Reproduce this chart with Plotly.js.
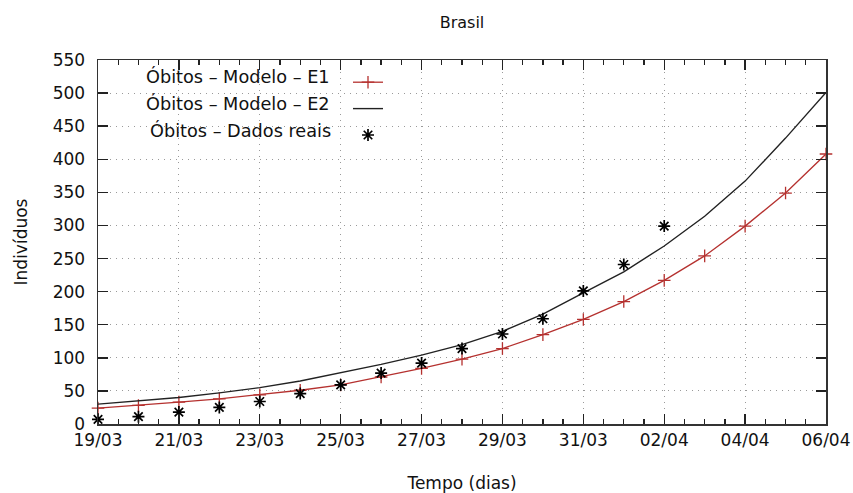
<!DOCTYPE html>
<html>
<head>
<meta charset="utf-8">
<script src="https://cdn.plot.ly/plotly-3.0.1.min.js"></script>
<style>html,body{margin:0;padding:0;background:#fff;}#chart{width:853px;height:493px;}</style>
</head>
<body>
<div id="chart"></div>
<script>
// Model dates (19/03 to 06/04)
const modelDates = ['2020-03-19','2020-03-20','2020-03-21','2020-03-22','2020-03-23','2020-03-24','2020-03-25','2020-03-26','2020-03-27','2020-03-28','2020-03-29','2020-03-30','2020-03-31','2020-04-01','2020-04-02','2020-04-03','2020-04-04','2020-04-05','2020-04-06'];
const obitosE1 = [24,28,33,38,44,51,59,71,84,98,114,135,158,185,217,254,299,349,408];
const obitosE2 = [30,35,40,47,55,65,77,90,104,120,140,166,198,230,269,314,367,432,501];
// Real data dates (19/03 to 02/04)
const realDates = ['2020-03-19','2020-03-20','2020-03-21','2020-03-22','2020-03-23','2020-03-24','2020-03-25','2020-03-26','2020-03-27','2020-03-28','2020-03-29','2020-03-30','2020-03-31','2020-04-01','2020-04-02'];
const obitosReais = [7,11,18,25,34,46,59,77,92,114,136,159,201,241,299];

const labelE1 = 'Óbitos – Modelo – E1';
const labelE2 = 'Óbitos – Modelo – E2';
const labelReais = 'Óbitos – Dados reais';

const FONT = 'DejaVu Sans, sans-serif';
const DAY = 86400000;

const traces = [
  {x: modelDates, y: obitosE1, type: 'scatter', mode: 'lines+markers', name: '',
   line: {color: '#b5312f', width: 1.3},
   marker: {symbol: 'cross-thin-open', size: 9, color: '#b5312f', line: {color: '#b5312f', width: 1.3}},
   cliponaxis: false},
  {x: modelDates, y: obitosE2, type: 'scatter', mode: 'lines', name: '',
   line: {color: '#222222', width: 1.4}},
  {x: realDates, y: obitosReais, type: 'scatter', mode: 'markers', name: '',
   marker: {symbol: 'asterisk-open', size: 10, color: '#000', line: {color: '#000', width: 1.7}},
   cliponaxis: false}
];

const W = 853, H = 493, L = 98, R = 27, T = 60, B = 69;
const pw = W - L - R, ph = H - T - B;
const px = v => (v - L) / pw;
const py = v => (H - B - v) / ph;

const layout = {
  width: W, height: H,
  margin: {l: L, r: R, t: T, b: B},
  paper_bgcolor: '#fff', plot_bgcolor: '#fff',
  font: {family: FONT, size: 17, color: '#111'},
  title: {text: 'Brasil', x: 0.5, xref: 'paper', y: 1 - 22/H, yref: 'container', yanchor: 'middle',
          font: {family: FONT, size: 16, color: '#111'}},
  xaxis: {
    type: 'date', range: ['2020-03-19', '2020-04-06'], tick0: '2020-03-19', dtick: 2*DAY,
    tickformat: '%d/%m',
    showline: true, linecolor: '#333', linewidth: 1.5, mirror: 'ticks',
    ticks: 'inside', tickcolor: '#222', tickwidth: 1.4, ticklen: 10,
    minor: {ticks: 'inside', ticklen: 5, tickcolor: '#222', tickwidth: 1.3, dtick: DAY/2, tick0: '2020-03-19', showgrid: false},
    showgrid: true, gridcolor: '#9a9a9a', griddash: '1px,5px', gridwidth: 1,
    zeroline: false, tickfont: {family: FONT, size: 17, color: '#111'},
    title: {text: 'Tempo (dias)', font: {family: FONT, size: 17, color: '#111'}, standoff: 29}
  },
  yaxis: {
    range: [0, 550], dtick: 50, tick0: 0,
    showline: true, linecolor: '#333', linewidth: 1.5, mirror: 'ticks',
    ticks: 'inside', tickcolor: '#222', tickwidth: 1.4, ticklen: 10,
    showgrid: true, gridcolor: '#9a9a9a', griddash: '1px,5px', gridwidth: 1,
    zeroline: false, tickfont: {family: FONT, size: 17, color: '#111'}, ticklabelstandoff: 8,
    title: {text: 'Indivíduos', font: {family: FONT, size: 17, color: '#111'}, standoff: 20}
  },
  showlegend: true,
  legend: {x: px(348), xanchor: 'left', y: py(64), yanchor: 'top', bgcolor: 'rgba(0,0,0,0)',
           borderwidth: 0, font: {family: FONT, size: 18}, traceorder: 'normal'},
  shapes: [
    {type: 'rect', xref: 'paper', yref: 'paper', x0: px(100), x1: px(402), y0: py(140), y1: py(71),
     fillcolor: '#ffffff', line: {width: 0}, layer: 'between'}
  ],
  annotations: [
    {text: labelE1, xref: 'paper', yref: 'paper', x: px(332), y: py(77), xanchor: 'right', yanchor: 'middle', showarrow: false, font: {family: FONT, size: 17.7, color: '#111'}},
    {text: labelE2, xref: 'paper', yref: 'paper', x: px(332), y: py(103), xanchor: 'right', yanchor: 'middle', showarrow: false, font: {family: FONT, size: 17.7, color: '#111'}},
    {text: labelReais, xref: 'paper', yref: 'paper', x: px(333), y: py(130), xanchor: 'right', yanchor: 'middle', showarrow: false, font: {family: FONT, size: 17.7, color: '#111'}}
  ]
};

Plotly.newPlot('chart', traces, layout, {displayModeBar: false, staticPlot: true});
</script>
</body>
</html>
